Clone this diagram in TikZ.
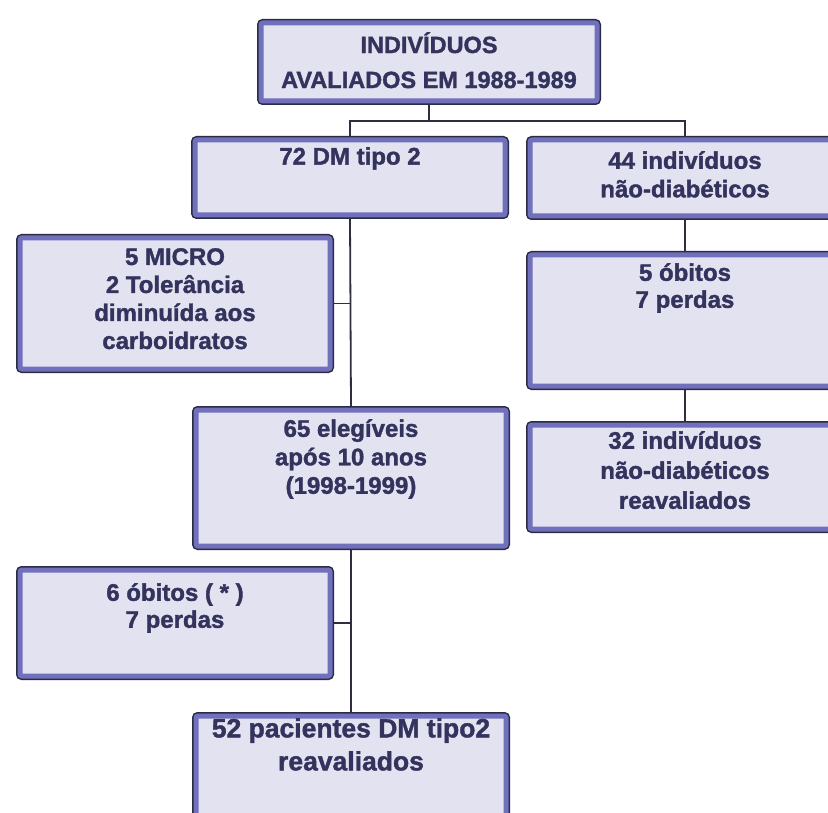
\documentclass[tikz,border=0pt]{standalone}
\usepackage{fontspec}
\setmainfont{Liberation Sans}[BoldFeatures={FakeBold=1.5}]
\usetikzlibrary{
    positioning % For text below box tops
}

\definecolor{boxfill}{HTML}{E2E2F0}
\definecolor{boxrim}{HTML}{7070BC}
\definecolor{boxdark}{HTML}{2B2B45}
\definecolor{txtcol}{HTML}{33335E}
\definecolor{linkcol}{HTML}{2E2E40}

\begin{document}
\begin{tikzpicture}[
    x=1pt, y=-1pt,
    box/.style={draw=boxrim, line width=5pt, fill=boxfill, rounded corners=2pt,
        inner sep=0pt, outer sep=4pt, minimum width=310pt, anchor=north west,
        preaction={draw=boxdark, line width=8pt}},
    txt/.style={font=\bfseries\fontsize{24}{28.5}\selectfont, text=txtcol,
        align=center, inner sep=0pt},
    link/.style={draw=linkcol, line width=1.8pt}
    ]

    \useasboundingbox (0,0) rectangle (828,813);
    \clip (0,0) rectangle (828,813);

    % Boxes (right column runs off the page)
    \node[box, minimum width=336pt, minimum height=78pt] (tit) at (257,19) {};
    \node[box, minimum height=75pt] (dm) at (191,136) {};
    \node[box, minimum height=76pt] (nd) at (526,136) {};
    \node[box, minimum height=131pt] (micro) at (16,234) {};
    \node[box, minimum height=131pt] (ob5) at (526,251) {};
    \node[box, minimum height=136pt] (eleg) at (192,406) {};
    \node[box, minimum height=104pt] (nd32) at (526,421) {};
    \node[box, minimum height=106pt] (ob6) at (16,566) {};
    \node[box, minimum height=119pt] (pac) at (192,712) {};

    % Texts near the top of each box
    \node[txt, font=\bfseries\fontsize{23.5}{35}\selectfont, below=13pt of tit.north] (tit-t)
        {INDIVÍDUOS\\AVALIADOS EM 1988-1989};
    \node[txt, below=11pt of dm.north] (dm-t) {72 DM tipo 2};
    \node[txt, below=15pt of nd.north] (nd-t) {44 indivíduos\\não-diabéticos};
    \node[txt, font=\bfseries\fontsize{24}{28}\selectfont, below=14pt of micro.north] (micro-t)
        {5 MICRO\\2 Tolerância\\diminuída aos\\carboidratos};
    \node[txt, font=\bfseries\fontsize{24}{27}\selectfont, below=12pt of ob5.north] (ob5-t)
        {5 óbitos\\7 perdas};
    \node[txt, below=13pt of eleg.north] (eleg-t) {65 elegíveis\\após 10 anos\\(1998-1999)};
    \node[txt, font=\bfseries\fontsize{24}{30}\selectfont, below=10pt of nd32.north] (nd32-t)
        {32 indivíduos\\não-diabéticos\\reavaliados};
    \node[txt, font=\bfseries\fontsize{24}{27}\selectfont, below=17pt of ob6.north] (ob6-t)
        {6 óbitos ( * )\\7 perdas};
    \node[txt, font=\bfseries\fontsize{26.5}{33}\selectfont, below=6pt of pac.north] (pac-t)
        {52 pacientes DM tipo2\\reavaliados};

    % Connectors
    \draw[link] (tit.south) -- ++(0,16) coordinate (split);
    \draw[link] (dm.north) |- (split) -| (nd.north);
    \draw[link] (dm.south) -- (eleg.north);
    \draw[link] (micro.east) -- (micro.east -| dm.south);
    \draw[link] (eleg.south) -- (pac.north);
    \draw[link] (ob6.east) -- (ob6.east -| eleg.south);
    \draw[link] (nd.south) -- (ob5.north);
    \draw[link] (ob5.south) -- (nd32.north);

\end{tikzpicture}
\end{document}
